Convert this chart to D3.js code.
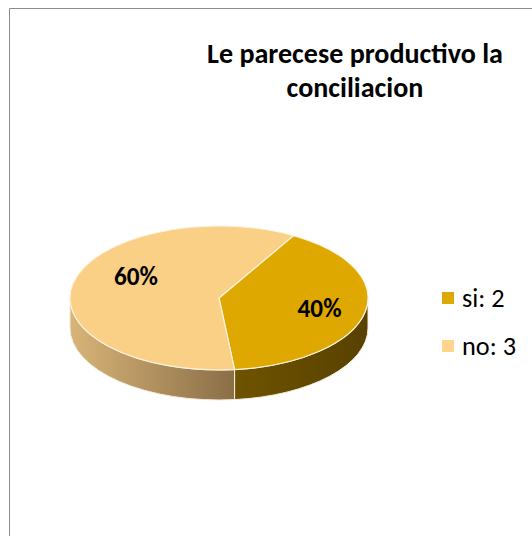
<!DOCTYPE html>
<html>
<head>
<meta charset="utf-8">
<script src="https://cdn.jsdelivr.net/npm/d3@7"></script>
<style>
  html, body { margin: 0; padding: 0; background: #fff; }
  svg { display: block; }
</style>
</head>
<body>
<svg id="chart" width="532" height="536"></svg>
<script>
// ---- data ----
const categories = ["si", "no"];
const values = [2, 3];
const title = ["Le parecese productivo la", "conciliacion"];
const topColors = ["#dfa800", "#fad086"];
const legendColors = ["#dfa800", "#ffd48c"];

// ---- layout ----
const W = 532, H = 536;
const cx = 219, cy = 298, rx = 149, ry = 72, depth = 30;
const startRot = 30 * Math.PI / 180;

const svg = d3.select("#chart");

svg.append("line").attr("x1", 9.5).attr("y1", 8.5).attr("x2", W).attr("y2", 8.5)
  .attr("stroke", "#8c8c8c").attr("stroke-width", 1);
svg.append("line").attr("x1", 9.5).attr("y1", 8.5).attr("x2", 9.5).attr("y2", H)
  .attr("stroke", "#8c8c8c").attr("stroke-width", 1);

const font = "Carlito, Calibri, 'Open Sans', 'Liberation Sans', sans-serif";

function fitWidth(sel, target) {
  const n = sel.node();
  const w = n.getComputedTextLength();
  const fs = parseFloat(sel.attr("font-size"));
  if (w > 0) sel.attr("font-size", fs * target / w);
}

// title
const t1 = svg.append("text").attr("x", 355).attr("y", 63).attr("text-anchor", "middle")
  .attr("font-family", font).attr("font-weight", "bold").attr("font-size", 26).attr("fill", "#000")
  .text(title[0]);
fitWidth(t1, 296);
svg.append("text").attr("x", 355).attr("y", 97).attr("text-anchor", "middle")
  .attr("font-family", font).attr("font-weight", "bold").attr("font-size", t1.attr("font-size")).attr("fill", "#000")
  .text(title[1]);

// pie
const pie = d3.pie().sort(null).startAngle(startRot).endAngle(startRot + 2 * Math.PI);
const arcsData = pie(values);
const total = d3.sum(values);

const pt = (a, dy = 0) => [cx + rx * Math.sin(a), cy - ry * Math.cos(a) + dy];

const defs = svg.append("defs");
const sideGrads = [
  ["#6e5300", "#584100"],
  ["#d8b478", "#8a6e47"]
];

const sideG = svg.append("g");
arcsData.forEach((d, i) => {
  const segs = [];
  for (let k = -1; k <= 1; k++) {
    const a0 = Math.max(d.startAngle + k * 2 * Math.PI, Math.PI / 2);
    const a1 = Math.min(d.endAngle + k * 2 * Math.PI, 3 * Math.PI / 2);
    if (a1 > a0) segs.push([a0, a1]);
  }
  segs.forEach(([a0, a1], j) => {
    const p0 = pt(a0), p1 = pt(a1), q1 = pt(a1, depth), q0 = pt(a0, depth);
    const large = (a1 - a0) > Math.PI ? 1 : 0;
    const gid = "sg" + i + "_" + j;
    const xs = [p0[0], p1[0]];
    const g = defs.append("linearGradient").attr("id", gid)
      .attr("gradientUnits", "userSpaceOnUse")
      .attr("x1", d3.min(xs)).attr("x2", d3.max(xs)).attr("y1", 0).attr("y2", 0);
    g.append("stop").attr("offset", 0).attr("stop-color", sideGrads[i][0]);
    g.append("stop").attr("offset", 1).attr("stop-color", sideGrads[i][1]);
    const path = `M${p0}A${rx},${ry} 0 ${large} 1 ${p1}L${q1}A${rx},${ry} 0 ${large} 0 ${q0}Z`;
    sideG.append("path").attr("d", path)
      .attr("fill", `url(#${gid})`)
      .attr("stroke", "#f4ecdc").attr("stroke-width", 1).attr("stroke-linejoin", "round");
  });
});

const arc = d3.arc().innerRadius(0).outerRadius(rx);
const topG = svg.append("g").attr("transform", `translate(${cx},${cy}) scale(1,${ry / rx})`);
topG.selectAll("path").data(arcsData).join("path")
  .attr("d", arc)
  .attr("fill", (d, i) => topColors[i])
  .attr("stroke", "#fbf3df").attr("stroke-width", 1.2)
  .attr("vector-effect", "non-scaling-stroke")
  .attr("stroke-linejoin", "round");

// labels
const labR = [0.69, 0.57];
const labs = svg.append("g").selectAll("text").data(arcsData).join("text")
  .attr("x", (d, i) => { const m = (d.startAngle + d.endAngle) / 2; return cx + rx * labR[i] * Math.sin(m); })
  .attr("y", (d, i) => { const m = (d.startAngle + d.endAngle) / 2; return cy - ry * labR[i] * Math.cos(m) - 13 * i; })
  .attr("dy", "0.35em")
  .attr("text-anchor", "middle")
  .attr("font-family", font).attr("font-weight", "bold").attr("font-size", 22)
  .attr("fill", "#000")
  .text(d => Math.round(d.value / total * 100) + "%");
labs.each(function () { fitWidth(d3.select(this), 44); });

// legend
const leg = svg.append("g");
categories.forEach((c, i) => {
  const y = 298 + i * 48;
  leg.append("rect").attr("x", 442).attr("y", y - 6).attr("width", 12).attr("height", 12)
    .attr("fill", legendColors[i]);
  const t = leg.append("text").attr("x", 462).attr("y", y).attr("dy", "0.35em")
    .attr("font-family", font).attr("font-size", 22).attr("fill", "#000")
    .text(`${c}: ${values[i]}`);
  if (i === 1) fitWidth(t, 54);
});
const legTexts = leg.selectAll("text");
legTexts.attr("font-size", d3.select(legTexts.nodes()[1]).attr("font-size"));
</script>
</body>
</html>
